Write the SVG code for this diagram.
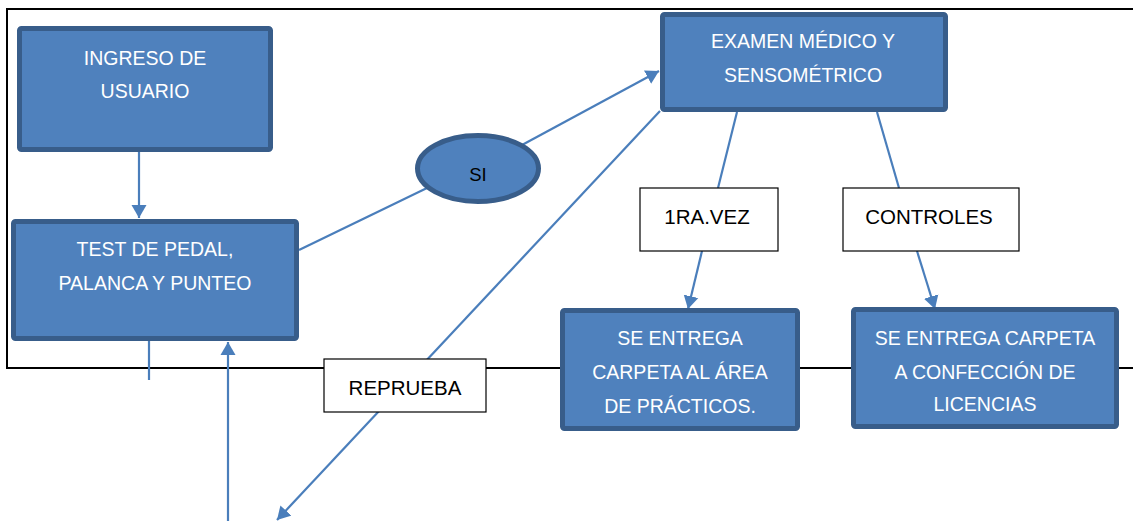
<svg xmlns="http://www.w3.org/2000/svg" width="1133" height="521" viewBox="0 0 1133 521">
<style>
.frame{fill:none;stroke:#000;stroke-width:2}
.box{fill:#4f81bd;stroke:#385d8a;stroke-width:5}
.lbl{fill:#fff;stroke:#000;stroke-width:1.2}
.wt{font-family:"Liberation Sans",Arial,sans-serif;font-size:19.5px;fill:#fff;text-anchor:middle}
.bt{font-family:"Liberation Sans",Arial,sans-serif;font-size:20.5px;fill:#000;text-anchor:middle}
.con{fill:none;stroke:#4a7ebb;stroke-width:2.2}
</style>
<defs>
<marker id="ah" markerUnits="userSpaceOnUse" markerWidth="16" markerHeight="16" refX="13" refY="8" orient="auto" viewBox="0 0 16 16">
<path d="M0,0.5 L13,8 L0,15.5 z" fill="#4a7ebb"/>
</marker>
</defs>
<rect width="1133" height="521" fill="#fff"/>
<g id="frame">
<path class="frame" d="M1133,9 L7,9 L7,368 L1133,368"/>
</g>
<g id="connectors">
<line class="con" x1="139" y1="152" x2="139" y2="218" marker-end="url(#ah)"/>
<line class="con" x1="149" y1="341" x2="149" y2="380"/>
<line class="con" x1="228" y1="521" x2="228" y2="342" marker-end="url(#ah)"/>
<line class="con" x1="299" y1="250" x2="427" y2="188"/>
<line class="con" x1="522" y1="145" x2="659" y2="71" marker-end="url(#ah)"/>
<line class="con" x1="660" y1="111" x2="277" y2="520" marker-end="url(#ah)"/>
<line class="con" x1="737" y1="112" x2="718" y2="188"/>
<line class="con" x1="702" y1="251" x2="688" y2="309" marker-end="url(#ah)"/>
<line class="con" x1="877" y1="112" x2="899" y2="188"/>
<line class="con" x1="917" y1="251" x2="935" y2="309" marker-end="url(#ah)"/>
</g>
<g id="ingreso">
<rect class="box" x="19.5" y="28.5" width="251" height="121" rx="2"/>
<text class="wt" x="145" y="65">INGRESO DE</text>
<text class="wt" x="145" y="98">USUARIO</text>
</g>
<g id="test">
<rect class="box" x="13.5" y="221.5" width="283" height="117" rx="2"/>
<text class="wt" x="155" y="256">TEST DE PEDAL,</text>
<text class="wt" x="155" y="290">PALANCA Y PUNTEO</text>
</g>
<g id="si">
<ellipse class="box" cx="478" cy="168.5" rx="60.5" ry="33"/>
<text x="478" y="181" font-family="Liberation Sans,Arial,sans-serif" font-size="18.5" text-anchor="middle" fill="#000">SI</text>
</g>
<g id="examen">
<rect class="box" x="662.5" y="14.5" width="283" height="95" rx="2"/>
<text class="wt" x="803" y="48">EXAMEN MÉDICO Y</text>
<text class="wt" x="803" y="82">SENSOMÉTRICO</text>
</g>
<g id="reprueba">
<rect class="lbl" x="324" y="359" width="162" height="53"/>
<text class="bt" x="405" y="395">REPRUEBA</text>
</g>
<g id="primera">
<rect class="lbl" x="640" y="188" width="138" height="63"/>
<text class="bt" x="707" y="224">1RA.VEZ</text>
</g>
<g id="controles">
<rect class="lbl" x="843" y="188" width="176" height="63"/>
<text class="bt" x="929" y="224">CONTROLES</text>
</g>
<g id="practicos">
<rect class="box" x="562.5" y="310.5" width="235" height="118" rx="2"/>
<text class="wt" x="680" y="345">SE ENTREGA</text>
<text class="wt" x="680" y="379">CARPETA AL ÁREA</text>
<text class="wt" x="680" y="413">DE PRÁCTICOS.</text>
</g>
<g id="licencias">
<rect class="box" x="853.5" y="309.5" width="263" height="117" rx="2"/>
<text class="wt" x="985" y="345">SE ENTREGA CARPETA</text>
<text class="wt" x="985" y="379">A CONFECCIÓN DE</text>
<text class="wt" x="985" y="411">LICENCIAS</text>
</g>
</svg>
